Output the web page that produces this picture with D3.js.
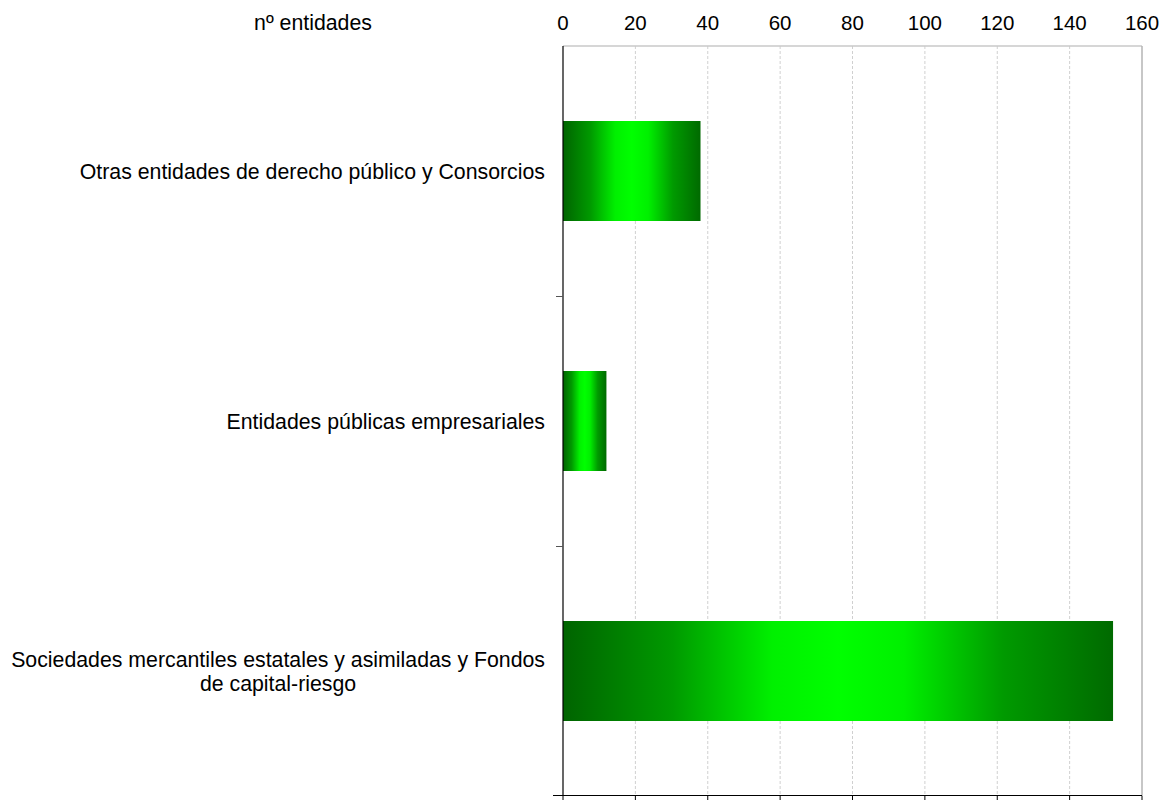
<!DOCTYPE html>
<html><head><meta charset="utf-8">
<script src="https://cdn.jsdelivr.net/npm/d3@7"></script>
<style>body{margin:0;background:#fff}svg{display:block}text{font-family:"Liberation Sans",Arial,sans-serif;fill:#000}</style>
</head><body><svg id="c" width="1165" height="800"></svg>
<script>
const categories = ["Otras entidades de derecho público y Consorcios","Entidades públicas empresariales","Sociedades mercantiles estatales y asimiladas y Fondos|de capital-riesgo"];
const values = [38, 12, 152];
const xTicks = [0,20,40,60,80,100,120,140,160];
const axisTitle = "nº entidades";

const svg = d3.select("#c");
const L = 563, R = 1142, T = 46, B = 796;
const x = d3.scaleLinear().domain([0,160]).range([L,R]);
const y = d3.scaleBand().domain(categories).range([T,B]).paddingInner(0.6).paddingOuter(0.3);
const yb = d3.scaleBand().domain(categories).range([T,B]);

const defs = svg.append("defs");
const g = defs.append("linearGradient").attr("id","gr").attr("x1","0").attr("x2","1").attr("y1","0").attr("y2","0");
[[0,"#006400"],[0.2,"#009a00"],[0.38,"#00f000"],[0.5,"#00ff00"],[0.62,"#00f000"],[0.8,"#009a00"],[1,"#006a00"]].forEach(s=>g.append("stop").attr("offset",s[0]).attr("stop-color",s[1]));

// grid
svg.append("g").selectAll("line").data(xTicks.slice(1,-1)).join("line")
 .attr("x1",d=>x(d)).attr("x2",d=>x(d)).attr("y1",T).attr("y2",B)
 .attr("stroke","#d0d0d0").attr("stroke-dasharray","3,2");
// frame
svg.append("line").attr("x1",L).attr("x2",R).attr("y1",T).attr("y2",T).attr("stroke","#c8c8c8").attr("stroke-width",1.5);
svg.append("line").attr("x1",R).attr("x2",R).attr("y1",T).attr("y2",B).attr("stroke","#b4b4b4").attr("stroke-width",1.5);

// bars
svg.append("g").selectAll("rect").data(categories).join("rect")
 .attr("x",x(0)).attr("y",d=>y(d)).attr("width",(d,i)=>x(values[i])-x(0)).attr("height",y.bandwidth())
 .attr("fill","url(#gr)");

// y axis
svg.append("line").attr("x1",L).attr("x2",L).attr("y1",T).attr("y2",B).attr("stroke","#000").attr("stroke-width",1.2);
svg.append("g").selectAll("line").data(categories.slice(1)).join("line")
 .attr("x1",L-7).attr("x2",L).attr("y1",d=>Math.round(yb(d))+0.5).attr("y2",d=>Math.round(yb(d))+0.5).attr("stroke","#555");
// bottom axis
svg.append("line").attr("x1",553).attr("x2",R).attr("y1",B-0.5).attr("y2",B-0.5).attr("stroke","#000").attr("stroke-width",1.2);
svg.append("g").selectAll("line").data(xTicks).join("line")
 .attr("x1",d=>x(d)).attr("x2",d=>x(d)).attr("y1",B).attr("y2",B+5).attr("stroke","#000");

// top tick labels
svg.append("g").selectAll("text").data(xTicks).join("text")
 .attr("x",d=>x(d)).attr("y",29.5).attr("text-anchor","middle").style("font-size","20.5px").text(d=>d);
svg.append("text").attr("x",313).attr("y",29.5).attr("text-anchor","middle").style("font-size","21.3px").text(axisTitle);

// category labels
categories.forEach(c=>{
  const lines = c.split("|");
  const cy = yb(c)+yb.bandwidth()/2;
  const t = svg.append("text").style("font-size","21.3px");
  const n = lines.length;
  const spans = lines.map((l,i)=>t.append("tspan").text(l).attr("y",cy+8+(i-(n-1)/2)*24));
  const w = d3.max(spans, s=>s.node().getComputedTextLength());
  if(n===1){ t.attr("text-anchor","end"); spans[0].attr("x",545); }
  else { t.attr("text-anchor","middle"); spans.forEach(s=>s.attr("x",545-w/2)); }
});
</script></body></html>
